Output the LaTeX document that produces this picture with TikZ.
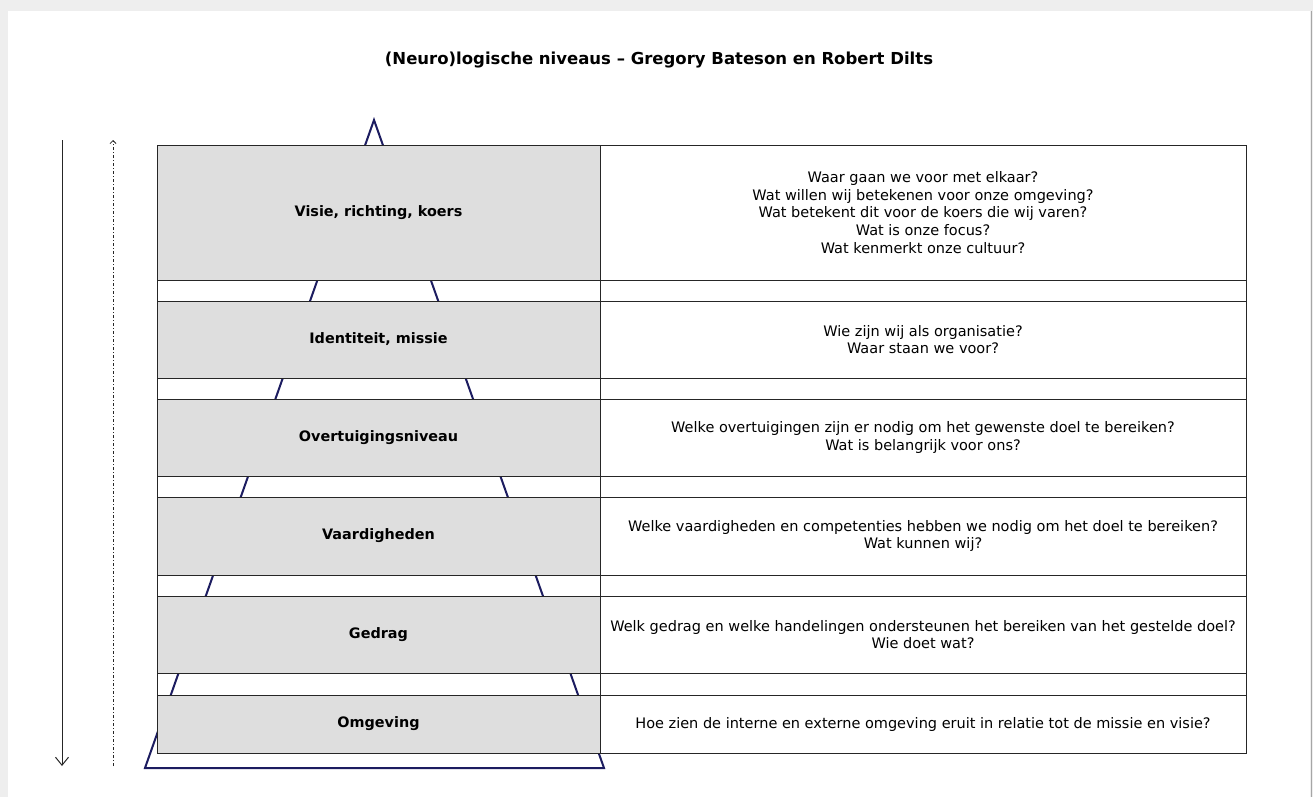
\documentclass[tikz,border=0pt]{standalone}
\usepackage{fontspec}
\setmainfont{DejaVu Sans}
\usetikzlibrary{arrows.meta, positioning}
\definecolor{levelgray}{RGB}{222,222,222}
\definecolor{pyramidblue}{RGB}{28,28,96}
\definecolor{framegray}{RGB}{238,238,238}
\tikzstyle{level} = [rectangle, minimum width=443pt, inner sep=0pt, outer sep=0pt, text centered, draw=black!85, fill=levelgray, font=\fontsize{14.4}{18}\selectfont\bfseries]
\tikzstyle{question} = [rectangle, minimum width=646pt, inner sep=0pt, outer sep=0pt, align=center, draw=black!85, font=\fontsize{14.5}{17.8}\selectfont]
\tikzstyle{spacer} = [rectangle, minimum width=443pt, minimum height=21pt, inner sep=0pt, outer sep=0pt, draw=black!85]
\tikzstyle{spacerwide} = [rectangle, minimum width=646pt, minimum height=21pt, inner sep=0pt, outer sep=0pt, draw=black!85]

\begin{document}
\begin{tikzpicture}[x=1pt, y=-1pt, line width=1pt]
\useasboundingbox (0,0) rectangle (1313,797);
% page frame
\fill[framegray] (0,0) rectangle (1313,797);
\fill[white] (8,11) rectangle (1310,797);
\draw[gray!70, line width=1.5pt] (1311.5,11) -- (1311.5,797);

\node (title) at (659,60) {\fontsize{16.5}{19}\selectfont\bfseries (Neuro)logische niveaus -- Gregory Bateson en Robert Dilts};

% pyramid behind the table
\coordinate (apex) at (374,120);
\coordinate (baseL) at (145,768);
\coordinate (baseR) at (604,768);
\draw [pyramidblue, line width=2pt] (apex) -- (baseL) -- (baseR) -- cycle;

% arrows on the left
\coordinate (downtop) at (62,140);
\coordinate (downbot) at (62,766);
\coordinate (uptop) at (113,140);
\coordinate (upbot) at (113,766);
\draw [-{Straight Barb[length=8pt, width=13pt]}, black!85] (downtop) -- (downbot);
\draw [-{Straight Barb[length=3pt, width=6pt]}, black!85, line width=0.8pt, dash pattern=on 3pt off 2pt on 1pt off 2pt] (upbot) -- (uptop);

% levels
\node (visie) [level, minimum height=135pt, anchor=north west] at (157,145) {Visie, richting, koers};
\node (visieQ) [question, minimum height=135pt, right=0pt of visie] {Waar gaan we voor met elkaar?\\Wat willen wij betekenen voor onze omgeving?\\Wat betekent dit voor de koers die wij varen?\\Wat is onze focus?\\Wat kenmerkt onze cultuur?};
\node (gap1) [spacer, below=0pt of visie] {};
\node (gap1Q) [spacerwide, right=0pt of gap1] {};

\node (identiteit) [level, minimum height=77pt, below=0pt of gap1] {Identiteit, missie};
\node (identiteitQ) [question, minimum height=77pt, right=0pt of identiteit] {Wie zijn wij als organisatie?\\Waar staan we voor?};
\node (gap2) [spacer, below=0pt of identiteit] {};
\node (gap2Q) [spacerwide, right=0pt of gap2] {};

\node (overtuiging) [level, minimum height=77pt, below=0pt of gap2] {Overtuigingsniveau};
\node (overtuigingQ) [question, minimum height=77pt, right=0pt of overtuiging] {Welke overtuigingen zijn er nodig om het gewenste doel te bereiken?\\Wat is belangrijk voor ons?};
\node (gap3) [spacer, below=0pt of overtuiging] {};
\node (gap3Q) [spacerwide, right=0pt of gap3] {};

\node (vaardig) [level, minimum height=78pt, below=0pt of gap3] {Vaardigheden};
\node (vaardigQ) [question, minimum height=78pt, right=0pt of vaardig] {Welke vaardigheden en competenties hebben we nodig om het doel te bereiken?\\Wat kunnen wij?};
\node (gap4) [spacer, below=0pt of vaardig] {};
\node (gap4Q) [spacerwide, right=0pt of gap4] {};

\node (gedrag) [level, minimum height=77pt, below=0pt of gap4] {Gedrag};
\node (gedragQ) [question, minimum height=77pt, right=0pt of gedrag] {Welk gedrag en welke handelingen ondersteunen het bereiken van het gestelde doel?\\Wie doet wat?};
\node (gap5) [spacer, minimum height=22pt, below=0pt of gedrag] {};
\node (gap5Q) [spacerwide, minimum height=22pt, right=0pt of gap5] {};

\node (omgeving) [level, minimum height=58pt, below=0pt of gap5] {Omgeving};
\node (omgevingQ) [question, minimum height=58pt, right=0pt of omgeving] {Hoe zien de interne en externe omgeving eruit in relatie tot de missie en visie?};
\end{tikzpicture}
\end{document}
